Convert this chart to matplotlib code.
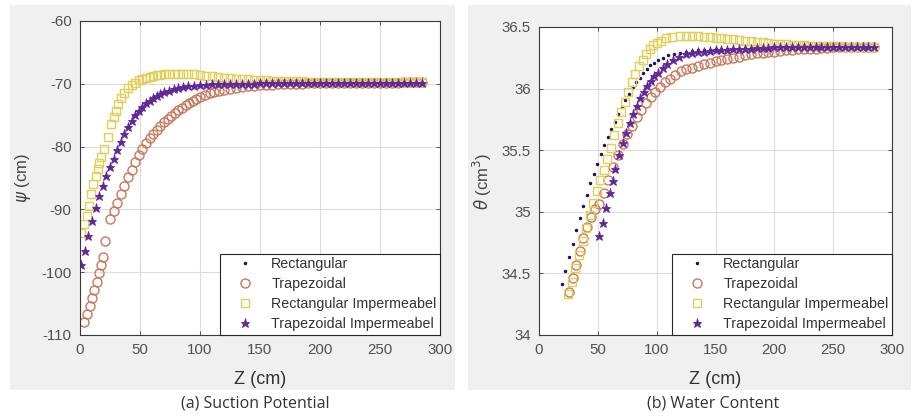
import matplotlib
matplotlib.use("Agg")
import matplotlib.pyplot as plt
from matplotlib.patches import Rectangle

plt.rcParams['font.family'] = ['Liberation Sans', 'DejaVu Sans']
plt.rcParams['axes.unicode_minus'] = False

# ---------------- data ----------------
TAIL_Z = [125, 130, 135, 140, 145, 150, 155, 160, 165, 170, 175, 180, 185, 190, 195, 200,
          205, 210, 215, 220, 225, 230, 235, 240, 245, 250, 255, 260, 265, 270, 275, 280, 285]

# (a) Suction potential
L_star_z = [1, 4, 7, 10, 13, 16, 19, 22, 25, 28, 31, 34, 37, 40, 43, 46, 49, 52, 55, 58, 61, 64,
            67, 70, 74, 78, 82, 86, 90, 95, 100, 105, 110, 115, 120] + TAIL_Z
L_star_v = [-98.9, -96.6, -94.2, -91.8, -89.7, -87.9, -86.2, -84.7, -83.3, -81.9, -80.5, -79.2,
            -78.0, -76.9, -75.9, -75.0, -74.3, -73.7, -73.1, -72.7, -72.3, -71.9, -71.6, -71.35,
            -71.1, -70.9, -70.7, -70.55, -70.4, -70.3, -70.2, -70.15, -70.1, -70.05, -70.0,
            -70.0, -70.0, -69.98, -69.97, -69.96, -69.95, -69.94, -69.93, -69.92, -69.91,
            -69.9, -69.9, -69.89, -69.88, -69.87, -69.86, -69.86, -69.85, -69.85, -69.84,
            -69.84, -69.83, -69.83, -69.83, -69.82, -69.82, -69.82, -69.81, -69.81, -69.81,
            -69.8, -69.8, -69.8]
L_rect_z = list(L_star_z)
L_rect_v = list(L_star_v)

L_circ_z = [3.5, 6, 8, 10, 12, 14, 16, 17.5, 19, 21, 25, 28, 31, 34, 37, 40, 43, 46, 49, 52, 55,
            58, 61, 64, 67, 70, 73, 76, 79, 82, 85, 88, 91, 94, 97, 100, 104, 108, 112, 116,
            120] + TAIL_Z
L_circ_v = [-108.0, -106.7, -105.4, -104.1, -102.8, -101.5, -100.2, -98.9, -97.6, -95.0, -91.6,
            -90.3, -89.0, -87.6, -86.2, -84.9, -83.7, -82.5, -81.4, -80.4, -79.5, -78.7, -78.0,
            -77.3, -76.7, -76.1, -75.6, -75.1, -74.6, -74.2, -73.8, -73.4, -73.0, -72.7, -72.4,
            -72.1, -71.8, -71.5, -71.3, -71.1, -70.95,
            -70.8, -70.65, -70.5, -70.4, -70.3, -70.25, -70.2, -70.15, -70.1, -70.05, -70.0,
            -69.98, -69.96, -69.94, -69.92, -69.9, -69.88, -69.87, -69.86, -69.85, -69.84,
            -69.83, -69.82, -69.82, -69.81, -69.81, -69.8, -69.8, -69.8, -69.79, -69.79,
            -69.78, -69.78]

L_sq_z = [0.5, 3, 5.6, 7.7, 9.5, 11, 13, 14.7, 16, 17.5, 20, 23, 25.8, 28, 30, 32, 34, 37, 40,
          43, 46, 49, 52, 55, 58, 61, 64, 67, 70, 74, 78, 82, 86, 90, 95, 100, 105, 110, 115,
          120] + TAIL_Z
L_sq_v = [-93.8, -92.3, -91.0, -89.4, -87.6, -85.9, -84.7, -83.6, -82.6, -81.6, -80.4, -78.5,
          -76.4, -75.3, -74.3, -73.2, -72.3, -71.4, -70.7, -70.2, -69.8, -69.45, -69.2, -69.0,
          -68.85, -68.7, -68.6, -68.55, -68.5, -68.45, -68.42, -68.4, -68.42, -68.45, -68.5,
          -68.6, -68.7, -68.8, -68.9, -69.0,
          -69.1, -69.2, -69.25, -69.3, -69.35, -69.4, -69.45, -69.5, -69.55, -69.58, -69.6,
          -69.62, -69.63, -69.64, -69.65, -69.66, -69.66, -69.67, -69.67, -69.68, -69.68,
          -69.68, -69.69, -69.69, -69.69, -69.7, -69.7, -69.7, -69.7, -69.7, -69.7, -69.7,
          -69.7]

# (b) Water content
R_rect_z = [19.5, 22.5, 25.5, 28.5, 31.5, 34.5, 37.5, 40.5, 43.5, 46.5, 49.5, 52.5, 55.5, 58.5,
            61.5, 64.5, 67.5, 70.5, 73.5, 76.5, 79.5, 82.5, 85.5, 88.5, 91.5, 94.5, 97.5, 101,
            105, 110, 115, 120] + TAIL_Z
R_rect_v = [34.41, 34.52, 34.63, 34.74, 34.85, 34.95, 35.05, 35.14, 35.23, 35.31, 35.39, 35.47,
            35.54, 35.61, 35.67, 35.73, 35.79, 35.85, 35.91, 35.96, 36.01, 36.05, 36.09, 36.13,
            36.16, 36.19, 36.21, 36.23, 36.25, 36.27, 36.28, 36.29,
            36.30, 36.305, 36.31, 36.31, 36.315, 36.32, 36.32, 36.32, 36.325, 36.325, 36.33,
            36.33, 36.33, 36.33, 36.335, 36.335, 36.335, 36.335, 36.34, 36.34, 36.34, 36.34,
            36.34, 36.34, 36.34, 36.34, 36.34, 36.34, 36.34, 36.34, 36.34, 36.34, 36.34]

R_circ_z = [25.5, 28.5, 31.5, 34.5, 37.5, 40.5, 44, 47.5, 51, 55, 59, 63, 67, 71, 75, 79, 83,
            87, 91, 95, 99, 103, 107, 111, 116, 121] + TAIL_Z
R_circ_v = [34.35, 34.46, 34.57, 34.68, 34.79, 34.88, 34.96, 35.02, 35.06, 35.15, 35.26, 35.36,
            35.46, 35.55, 35.63, 35.70, 35.77, 35.83, 35.88, 35.93, 35.97, 36.01, 36.05, 36.08,
            36.11, 36.14,
            36.16, 36.17, 36.185, 36.2, 36.21, 36.22, 36.23, 36.24, 36.25, 36.26, 36.27, 36.28,
            36.285, 36.29, 36.295, 36.30, 36.305, 36.31, 36.315, 36.32, 36.32, 36.325, 36.325,
            36.33, 36.33, 36.335, 36.335, 36.335, 36.34, 36.34, 36.34, 36.34, 36.34]

R_sq_z = [25, 28, 31, 34, 37, 40, 43, 46, 49, 52, 55, 58, 61, 64, 67, 70, 73, 76, 79, 82, 85,
          88, 91, 94, 97, 100, 104, 108, 113, 120] + TAIL_Z
R_sq_v = [34.33, 34.43, 34.54, 34.65, 34.76, 34.87, 34.97, 35.07, 35.17, 35.26, 35.34, 35.43,
          35.52, 35.62, 35.72, 35.81, 35.89, 35.97, 36.05, 36.12, 36.18, 36.23, 36.28, 36.32,
          36.35, 36.37, 36.39, 36.41, 36.42, 36.43,
          36.43, 36.43, 36.43, 36.42, 36.42, 36.41, 36.41, 36.405, 36.40, 36.395, 36.39,
          36.385, 36.38, 36.375, 36.37, 36.365, 36.36, 36.358, 36.355, 36.352, 36.35, 36.348,
          36.346, 36.345, 36.344, 36.343, 36.342, 36.341, 36.34, 36.34, 36.34, 36.34, 36.34]

R_star_z = [51, 54, 57, 60, 62.5, 65, 68, 71, 74, 77, 80, 83, 86, 89, 92, 95, 98, 101, 105, 109,
            114, 119] + TAIL_Z
R_star_v = [34.80, 34.91, 35.03, 35.15, 35.25, 35.35, 35.46, 35.56, 35.64, 35.72, 35.79, 35.86,
            35.92, 35.97, 36.02, 36.06, 36.10, 36.13, 36.17, 36.20, 36.23, 36.26,
            36.28, 36.29, 36.295, 36.30, 36.305, 36.31, 36.31, 36.315, 36.32, 36.32, 36.325,
            36.325, 36.33, 36.33, 36.33, 36.335, 36.335, 36.335, 36.335, 36.34, 36.34, 36.34,
            36.34, 36.34, 36.34, 36.34, 36.34, 36.34, 36.34, 36.34, 36.34, 36.34, 36.34]

labels = ['Rectangular', 'Trapezoidal', 'Rectangular Impermeabel', 'Trapezoidal Impermeabel']
x_ticks = [0, 50, 100, 150, 200, 250, 300]
L_yticks = [-110, -100, -90, -80, -70, -60]
R_yticks = [34, 34.5, 35, 35.5, 36, 36.5]
R_yticklabels = ['34', '34.5', '35', '35.5', '36', '36.5']

C_RECT = '#1b1464'
C_TRAP = '#c8785a'
C_RIMP = '#e2cf55'
C_TIMP = '#62289a'

# ---------------- figure ----------------
W, H = 917, 416
fig = plt.figure(figsize=(W / 100, H / 100), dpi=100)
fig.patch.set_facecolor('white')

def fx(px):
    return px / W

def fy(py):
    return 1 - py / H

for x0, x1 in [(10, 455), (468, 911)]:
    fig.patches.append(Rectangle((fx(x0), fy(390)), fx(x1) - fx(x0), fy(5) - fy(390),
                                 transform=fig.transFigure, facecolor='#f0f0f0',
                                 edgecolor='none', zorder=-10))

axL = fig.add_axes([fx(80), fy(335), fx(440) - fx(80), fy(21) - fy(335)])
axR = fig.add_axes([fx(539), fy(335), fx(892) - fx(539), fy(27) - fy(335)])

def draw(ax, rz, rv, cz, cv, sz, sv, tz, tv):
    ax.plot(rz, rv, linestyle='none', marker='.', ms=3, color=C_RECT, label=labels[0])
    ax.plot(cz, cv, linestyle='none', marker='o', ms=6.5, mfc='none', mec=C_TRAP, mew=1.0,
            label=labels[1])
    ax.plot(sz, sv, linestyle='none', marker='s', ms=6, mfc='none', mec=C_RIMP, mew=1.0,
            label=labels[2])
    ax.plot(tz, tv, linestyle='none', marker='*', ms=6.5, color=C_TIMP, mew=0.6,
            label=labels[3])

draw(axL, L_rect_z, L_rect_v, L_circ_z, L_circ_v, L_sq_z, L_sq_v, L_star_z, L_star_v)
draw(axR, R_rect_z, R_rect_v, R_circ_z, R_circ_v, R_sq_z, R_sq_v, R_star_z, R_star_v)

axL.set_xlim(0, 300)
axL.set_ylim(-110, -60)
axL.set_yticks(L_yticks)
axR.set_xlim(0, 300)
axR.set_ylim(34, 36.5)
axR.set_yticks(R_yticks)
axR.set_yticklabels(R_yticklabels)

for ax in (axL, axR):
    ax.set_facecolor('white')
    ax.set_xticks(x_ticks)
    ax.grid(True, color='#dcdcdc', linewidth=0.8)
    ax.set_axisbelow(True)
    ax.tick_params(direction='in', length=3, top=True, right=True, labelsize=10.8,
                   colors='#3a3a3a', labelcolor='#505050', width=0.6)
    ax.tick_params(axis='y', pad=6)
    ax.tick_params(axis='x', pad=6)
    for s in ax.spines.values():
        s.set_color('#3a3a3a')
        s.set_linewidth(0.8)
    ax.set_xlabel('Z (cm)', fontsize=13, color='#333333')
    leg = ax.legend(loc='lower right', fontsize=10.3, frameon=True, fancybox=False,
                    edgecolor='#262626', framealpha=1, borderaxespad=0, handlelength=3.0,
                    handletextpad=0.3, labelspacing=0.42, borderpad=0.25, markerscale=1.0)
    leg.get_frame().set_linewidth(0.8)
    for t in leg.get_texts():
        t.set_color('#333333')

axL.set_ylabel(r'$\psi$ (cm)', fontsize=12, color='#444444')
axR.set_ylabel(r'$\theta$ (cm$^3$)', fontsize=12, color='#444444')
axL.yaxis.set_label_coords((33 - 80) / 360, 0.5)
axR.yaxis.set_label_coords((494 - 539) / 353, 0.5)
axL.xaxis.set_label_coords(0.5, (335 - 371) / 314)
axR.xaxis.set_label_coords(0.5, (335 - 371) / 308)

fig.text(fx(255), fy(404), '(a) Suction Potential', ha='center', va='center',
         fontsize=11.5, color='#333333', family=['Open Sans', 'DejaVu Sans'])
fig.text(fx(713), fy(404), '(b) Water Content', ha='center', va='center',
         fontsize=11.5, color='#333333', family=['Open Sans', 'DejaVu Sans'])

fig.savefig('out.png', dpi=100, facecolor='white')
